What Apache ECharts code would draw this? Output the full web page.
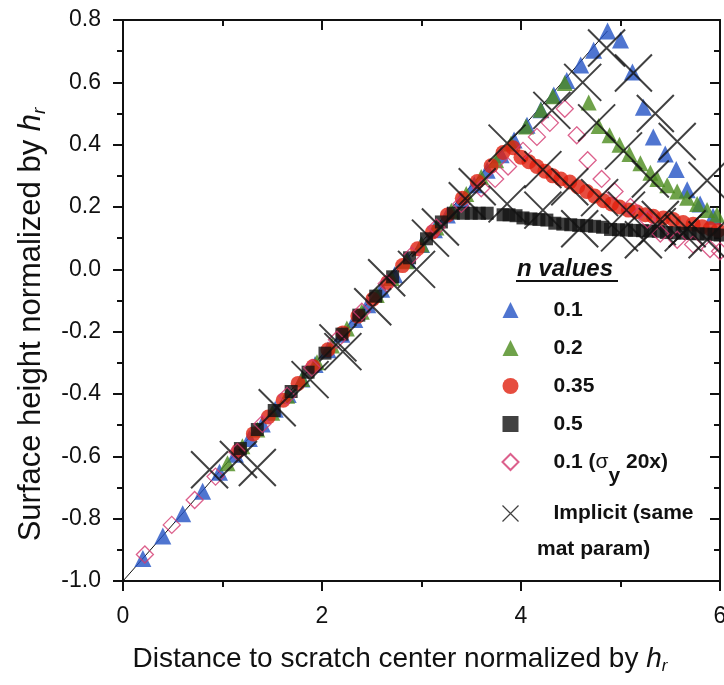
<!DOCTYPE html>
<html>
<head>
<meta charset="utf-8">
<script src="https://cdn.jsdelivr.net/npm/echarts@6/dist/echarts.min.js"></script>
<style>
  html, body { margin: 0; padding: 0; background: #fff; }
  #chart { width: 724px; height: 685px; }
</style>
</head>
<body>
<div id="chart"></div>
<script>
// surface profile across a scratch, normalized by h_r
var chart = echarts.init(document.getElementById('chart'), null, {renderer: 'canvas'});

var FONT = 'Liberation Sans';

// n = 0.1
var n01 = [
  [0.2, -0.928], [0.4, -0.856], [0.6, -0.784], [0.8, -0.712], [0.97, -0.651],
  [1.13, -0.593], [1.27, -0.543], [1.4, -0.496], [1.53, -0.449], [1.66, -0.402],
  [1.8, -0.352], [1.93, -0.305], [2.06, -0.258], [2.2, -0.208], [2.33, -0.161],
  [2.46, -0.114], [2.6, -0.064], [2.73, -0.017], [2.86, 0.030], [3.0, 0.080],
  [3.13, 0.127], [3.26, 0.174], [3.4, 0.224], [3.53, 0.271], [3.66, 0.318],
  [3.8, 0.368], [3.93, 0.415], [4.06, 0.462], [4.2, 0.512], [4.33, 0.559],
  [4.46, 0.606], [4.6, 0.656], [4.73, 0.703], [4.87, 0.765],
  [5.0, 0.736], [5.12, 0.633], [5.23, 0.52], [5.33, 0.425], [5.45, 0.37],
  [5.56, 0.32], [5.67, 0.255], [5.8, 0.21], [5.93, 0.17]
];
// n = 0.2
var n02 = [
  [1.05, -0.622], [1.2, -0.568], [1.35, -0.514], [1.5, -0.46], [1.65, -0.406],
  [1.8, -0.352], [1.95, -0.298], [2.1, -0.244], [2.25, -0.19], [2.4, -0.136],
  [2.55, -0.082], [2.7, -0.028], [2.85, 0.026], [3.0, 0.08], [3.15, 0.134],
  [3.3, 0.188], [3.45, 0.242], [3.6, 0.296], [3.75, 0.35], [3.9, 0.404],
  [4.05, 0.458], [4.2, 0.512], [4.32, 0.555], [4.44, 0.598],
  [4.68, 0.535], [4.78, 0.46], [4.89, 0.43], [4.99, 0.40], [5.09, 0.37],
  [5.2, 0.34], [5.3, 0.31], [5.37, 0.29], [5.47, 0.27], [5.57, 0.25],
  [5.67, 0.23], [5.77, 0.21], [5.87, 0.19], [5.97, 0.175]
];
// n = 0.35
var n035 = [
  [1.16, -0.582], [1.31, -0.528], [1.46, -0.474], [1.61, -0.420], [1.76, -0.366],
  [1.91, -0.312], [2.06, -0.258], [2.21, -0.204], [2.36, -0.150], [2.51, -0.096],
  [2.66, -0.042], [2.81, 0.012], [2.96, 0.066], [3.11, 0.120], [3.26, 0.174],
  [3.41, 0.228], [3.56, 0.282], [3.7, 0.332], [3.82, 0.375], [3.92, 0.39],
  [4.0, 0.36], [4.08, 0.345], [4.16, 0.33], [4.24, 0.315], [4.32, 0.30],
  [4.4, 0.29], [4.49, 0.28], [4.57, 0.265], [4.66, 0.25], [4.74, 0.235],
  [4.83, 0.22], [4.91, 0.21], [4.99, 0.20], [5.08, 0.19], [5.16, 0.185],
  [5.25, 0.175], [5.33, 0.17], [5.43, 0.165], [5.53, 0.16], [5.63, 0.15],
  [5.73, 0.145], [5.82, 0.137], [5.9, 0.13], [5.98, 0.125]
];
// n = 0.5
var n05 = [
  [1.18, -0.575], [1.35, -0.514], [1.52, -0.453], [1.69, -0.392], [1.86, -0.330],
  [2.03, -0.269], [2.2, -0.208], [2.37, -0.147], [2.54, -0.086], [2.71, -0.024],
  [2.88, 0.037], [3.05, 0.098], [3.2, 0.152], [3.32, 0.18],
  [3.42, 0.18], [3.5, 0.18], [3.58, 0.18], [3.66, 0.18],
  [3.82, 0.175], [3.88, 0.175], [3.95, 0.172], [4.02, 0.165], [4.1, 0.162],
  [4.18, 0.16], [4.26, 0.158], [4.34, 0.148], [4.42, 0.145], [4.5, 0.143],
  [4.58, 0.141], [4.66, 0.14], [4.74, 0.138], [4.82, 0.135], [4.9, 0.128],
  [4.98, 0.127], [5.06, 0.126], [5.14, 0.125], [5.22, 0.124], [5.3, 0.123],
  [5.38, 0.122], [5.46, 0.118], [5.54, 0.117], [5.62, 0.116], [5.7, 0.115],
  [5.78, 0.114], [5.86, 0.113], [5.94, 0.112], [6.0, 0.11]
];
// n = 0.1, yield stress x20
var n01s = [
  [0.22, -0.915], [0.49, -0.82], [0.72, -0.74], [0.93, -0.665], [1.15, -0.586],
  [1.4, -0.496], [1.65, -0.406], [1.9, -0.316], [2.15, -0.226], [2.4, -0.136],
  [2.65, -0.046], [2.9, 0.044], [3.15, 0.134], [3.4, 0.21], [3.6, 0.26],
  [3.74, 0.29], [3.87, 0.33], [4.02, 0.38], [4.16, 0.425], [4.29, 0.47],
  [4.44, 0.515], [4.56, 0.43], [4.67, 0.35], [4.81, 0.29], [4.94, 0.25],
  [5.1, 0.2], [5.27, 0.16], [5.4, 0.115], [5.57, 0.095], [5.73, 0.08],
  [5.9, 0.065], [6.0, 0.058]
];
// implicit solver
var implicit = [
  [0.87, -0.643], [1.16, -0.61], [1.35, -0.636], [1.55, -0.444], [1.88, -0.354],
  [2.16, -0.236], [2.21, -0.264], [2.51, -0.12], [2.65, -0.027], [2.95, 0.0],
  [3.09, 0.10], [3.19, 0.136], [3.46, 0.22], [3.56, 0.265], [3.86, 0.405],
  [4.31, 0.51], [4.62, 0.60], [4.86, 0.71],
  [5.13, 0.63], [5.35, 0.50], [5.57, 0.41], [5.87, 0.285],
  [4.76, 0.47], [5.03, 0.38], [5.3, 0.29],
  [4.22, 0.32], [4.49, 0.265], [4.79, 0.23], [5.06, 0.19], [5.4, 0.16], [5.67, 0.13], [5.87, 0.095],
  [3.86, 0.21], [4.22, 0.19], [4.59, 0.13], [4.99, 0.117], [5.23, 0.095], [5.37, 0.137], [5.63, 0.117]
];
// indenter flank
var flank = [[0, -1], [4.87, 0.765]];

var xTicks = {min: 0, max: 6, interval: 2};
var yTicks = {min: -1, max: 0.8, interval: 0.2};

var crossPath = 'path://M0,0L10,10M10,0L0,10';

function axisBase(extra) {
  var a = {
    type: 'value',
    splitLine: {show: false},
    axisLine: {show: true, onZero: false, lineStyle: {color: '#111', width: 2}},
    axisTick: {show: true, inside: false, length: 10, lineStyle: {color: '#111', width: 2}},
    minorTick: {show: true, splitNumber: 2, length: 6, lineStyle: {color: '#111', width: 2}},
    axisLabel: {show: true, color: '#111', fontFamily: FONT, fontSize: 23}
  };
  return Object.assign(a, extra);
}

function nameRich(size) {
  return {
    i: {fontStyle: 'italic', fontFamily: FONT, fontSize: size, color: '#111'},
    s: {fontStyle: 'italic', fontFamily: FONT, fontSize: Math.round(size * 0.6), color: '#111', padding: [Math.round(size * 0.5), 0, 0, 0]}
  };
}

option = {
  backgroundColor: '#fff',
  animation: false,
  grid: {left: 123, right: 4, top: 20, bottom: 104, outerBoundsMode: 'none'},
  xAxis: [
    axisBase(Object.assign({}, xTicks, {
      position: 'bottom',
      axisLabel: {color: '#111', fontFamily: FONT, fontSize: 23, margin: 24},
      name: 'Distance to scratch center normalized by {i|h}{s|r}',
      nameLocation: 'middle',
      nameGap: 63,
      nameTextStyle: {fontFamily: FONT, fontSize: 28, color: '#111', padding: [0, 43, 0, 0], rich: nameRich(28)}
    })),
    axisBase(Object.assign({}, xTicks, {
      position: 'top',
      axisTick: {show: true, inside: true, length: 10, lineStyle: {color: '#111', width: 2}},
      minorTick: {show: true, splitNumber: 2, length: 6, lineStyle: {color: '#111', width: 2}},
      axisLabel: {show: false}
    }))
  ],
  yAxis: [
    axisBase(Object.assign({}, yTicks, {
      position: 'left',
      axisLabel: {
        color: '#111', fontFamily: FONT, fontSize: 23, margin: 22,
        formatter: function (v) { return v.toFixed(1); }
      },
      name: 'Surface height normalized by {i|h}{s|r}',
      nameLocation: 'middle',
      nameGap: 74,
      nameTextStyle: {fontFamily: FONT, fontSize: 31, color: '#111', padding: [0, 48, 0, 0], rich: nameRich(31)}
    })),
    axisBase(Object.assign({}, yTicks, {
      position: 'right',
      axisTick: {show: true, inside: true, length: 10, lineStyle: {color: '#111', width: 2}},
      minorTick: {show: true, splitNumber: 2, length: 6, lineStyle: {color: '#111', width: 2}},
      axisLabel: {show: false}
    }))
  ],
  legend: {
    orient: 'vertical',
    left: 495,
    top: 294,
    itemWidth: 16,
    itemHeight: 16,
    itemGap: 16,
    selectedMode: false,
    data: [
      {name: '0.1'},
      {name: '0.2'},
      {name: '0.35'},
      {name: '0.5', icon: 'rect'},
      {name: '0.1s'},
      {name: 'Implicit', itemStyle: {borderWidth: 1.2}}
    ],
    formatter: function (name) {
      if (name === '0.1s') return '0.1 ({g|σ}{sub|y} 20x)';
      if (name === 'Implicit') return 'Implicit (same';
      return name;
    },
    textStyle: {
      fontFamily: FONT, fontSize: 21, fontWeight: 'bold', color: '#111', lineHeight: 22,
      padding: [0, 0, 0, 30],
      rich: {
        g: {fontFamily: FONT, fontSize: 21, fontWeight: 'normal', color: '#111'},
        sub: {fontFamily: FONT, fontSize: 21, fontWeight: 'bold', color: '#111', padding: [28, 0, 0, 0]}
      }
    }
  },
  graphic: [
    {
      type: 'text', left: 517, top: 257,
      style: {text: 'n values', fontFamily: FONT, fontSize: 24, fontWeight: 'bold', fontStyle: 'italic', fill: '#111'}
    },
    {
      type: 'line', shape: {x1: 516, y1: 281, x2: 618, y2: 281},
      style: {stroke: '#111', lineWidth: 2}
    },
    {
      type: 'text', left: 537, top: 539,
      style: {text: 'mat param)', fontFamily: FONT, fontSize: 21, fontWeight: 'bold', fill: '#111'}
    }
  ],
  series: [
    {
      name: 'flank', type: 'line', data: flank, symbol: 'none', silent: true,
      lineStyle: {color: '#111', width: 1}, z: 1
    },
    {
      name: '0.1', type: 'scatter', data: n01, symbol: 'triangle', symbolSize: 17,
      itemStyle: {color: '#2352c4'}, z: 2
    },
    {
      name: '0.2', type: 'scatter', data: n02, symbol: 'triangle', symbolSize: 16,
      itemStyle: {color: '#4b8b1d'}, z: 3
    },
    {
      name: '0.35', type: 'scatter', data: n035, symbol: 'circle', symbolSize: 15,
      itemStyle: {color: '#e0210f'}, z: 4
    },
    {
      name: '0.5', type: 'scatter', data: n05, symbol: 'rect', symbolSize: 13,
      itemStyle: {color: '#111'}, z: 5
    },
    {
      name: '0.1s', type: 'scatter', data: n01s, symbol: 'diamond', symbolSize: 17,
      itemStyle: {color: 'rgba(255,255,255,0)', borderColor: '#d3386f', borderWidth: 1.3}, z: 6
    },
    {
      name: 'Implicit', type: 'scatter', data: implicit, symbol: crossPath, symbolSize: 37,
      itemStyle: {color: 'none', borderColor: '#111', borderWidth: 2}, z: 7
    }
  ]
};
chart.setOption(option);
</script>
</body>
</html>
